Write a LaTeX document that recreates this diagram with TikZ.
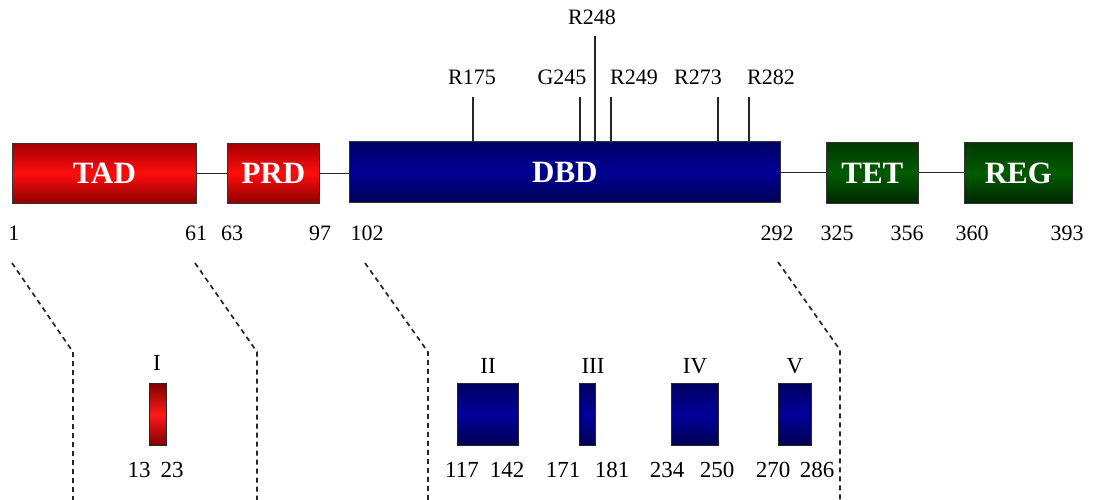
\documentclass[tikz,border=0pt]{standalone}
\usepackage{fontspec}
\setmainfont{Liberation Serif}
\begin{document}
\begin{tikzpicture}[x=1pt,y=-1pt,
  dom/.style={draw=black!80, line width=0.8pt, anchor=north west, inner sep=0pt,
    text=white, font=\fontsize{31}{35}\selectfont\bfseries},
  reddom/.style={dom, top color=red!65!black, bottom color=red!55!black, middle color=red!100!orange!95!white},
  bluedom/.style={dom, top color=blue!40!black, bottom color=blue!35!black, middle color=blue!58!black},
  greendom/.style={dom, top color=green!22!black, bottom color=green!15!black, middle color=green!36!black},
  sbox/.style={draw=black!85, line width=0.8pt, anchor=north west, inner sep=0pt, minimum height=62},
  sred/.style={sbox, top color=red!50!black, bottom color=red!50!black, middle color=red!100!orange!90!white},
  sblue/.style={sbox, top color=blue!38!black, bottom color=blue!33!black, middle color=blue!60!black},
  lab/.style={font=\fontsize{22}{26}\selectfont, inner sep=0pt},
  blab/.style={font=\fontsize{23}{27}\selectfont, inner sep=0pt},
  mut/.style={line width=1.2pt, black!85},
  guide/.style={dash pattern=on 5pt off 4pt, line width=1.7pt, black!85}]
\useasboundingbox (0,0) rectangle (1096,500);

% domains
\node[reddom, minimum width=184, minimum height=60] (tad) at (12,143) {TAD};
\node[reddom, minimum width=92, minimum height=60] (prd) at (227,143) {PRD};
\node[bluedom, minimum width=431, minimum height=61] (dbd) at (349,141) {DBD};
\node[greendom, minimum width=92, minimum height=61] (tet) at (826,142) {TET};
\node[greendom, minimum width=108, minimum height=61] (reg) at (964,142) {REG};
\draw[line width=1pt, black!85] (tad.east) -- (prd.west);
\draw[line width=1pt, black!85] (prd.east) -- (dbd.west |- prd.east);
\draw[line width=1pt, black!85] (dbd.east |- tet.west) -- (tet.west);
\draw[line width=1pt, black!85] (tet.east) -- (reg.west);

% mutations
\coordinate (m175) at (473,97);
\coordinate (m245) at (580,97);
\coordinate (m248) at (595,36);
\coordinate (m249) at (611,97);
\coordinate (m273) at (718,97);
\coordinate (m282) at (749,97);
\foreach \m in {m175,m245,m248,m249,m273,m282}
  \draw[mut] (\m) -- (\m |- dbd.north);
\node[lab] (l175) at (472,77) {R175};
\node[lab] (l245) at (562,77) {G245};
\node[lab] (l248) at (592,17) {R248};
\node[lab] (l249) at (634,77) {R249};
\node[lab] (l273) at (698,77) {R273};
\node[lab] (l282) at (771,77) {R282};

% positions
\node[lab] (p1) at (14,233) {1};
\node[lab] (p61) at (196,233) {61};
\node[lab] (p63) at (232,233) {63};
\node[lab] (p97) at (320,233) {97};
\node[lab] (p102) at (367,233) {102};
\node[lab] (p292) at (777,233) {292};
\node[lab] (p325) at (837,233) {325};
\node[lab] (p356) at (907,233) {356};
\node[lab] (p360) at (972,233) {360};
\node[lab] (p393) at (1067,233) {393};

% guide lines
\coordinate (g1a) at (12,263);  \coordinate (g1b) at (73,352);  \coordinate (g1c) at (73,500);
\coordinate (g2a) at (195,263); \coordinate (g2b) at (257,352); \coordinate (g2c) at (257,500);
\coordinate (g3a) at (365,263); \coordinate (g3b) at (428,352); \coordinate (g3c) at (428,500);
\coordinate (g4a) at (778,262); \coordinate (g4b) at (840,350); \coordinate (g4c) at (840,500);
\draw[guide] (g1a) -- (g1b) -- (g1c);
\draw[guide] (g2a) -- (g2b) -- (g2c);
\draw[guide] (g3a) -- (g3b) -- (g3c);
\draw[guide] (g4a) -- (g4b) -- (g4c);

% conserved regions
\node[sred, minimum width=17] (b1) at (149,383) {};
\node[sblue, minimum width=61] (b2) at (457,383) {};
\node[sblue, minimum width=16] (b3) at (579,383) {};
\node[sblue, minimum width=47] (b4) at (671,383) {};
\node[sblue, minimum width=33] (b5) at (778,383) {};
\node[blab] (n1) at (157,363) {I};
\node[blab] (n2) at (488,366) {II};
\node[blab] (n3) at (593,366) {III};
\node[blab] (n4) at (695,366) {IV};
\node[blab] (n5) at (795,366) {V};
\node[blab] (q13) at (139,470) {13};
\node[blab] (q23) at (172,470) {23};
\node[blab] (q117) at (462,470) {117};
\node[blab] (q142) at (507,470) {142};
\node[blab] (q171) at (563,470) {171};
\node[blab] (q181) at (612,470) {181};
\node[blab] (q234) at (667,470) {234};
\node[blab] (q250) at (717,470) {250};
\node[blab] (q270) at (773,470) {270};
\node[blab] (q286) at (817,470) {286};
\end{tikzpicture}
\end{document}
